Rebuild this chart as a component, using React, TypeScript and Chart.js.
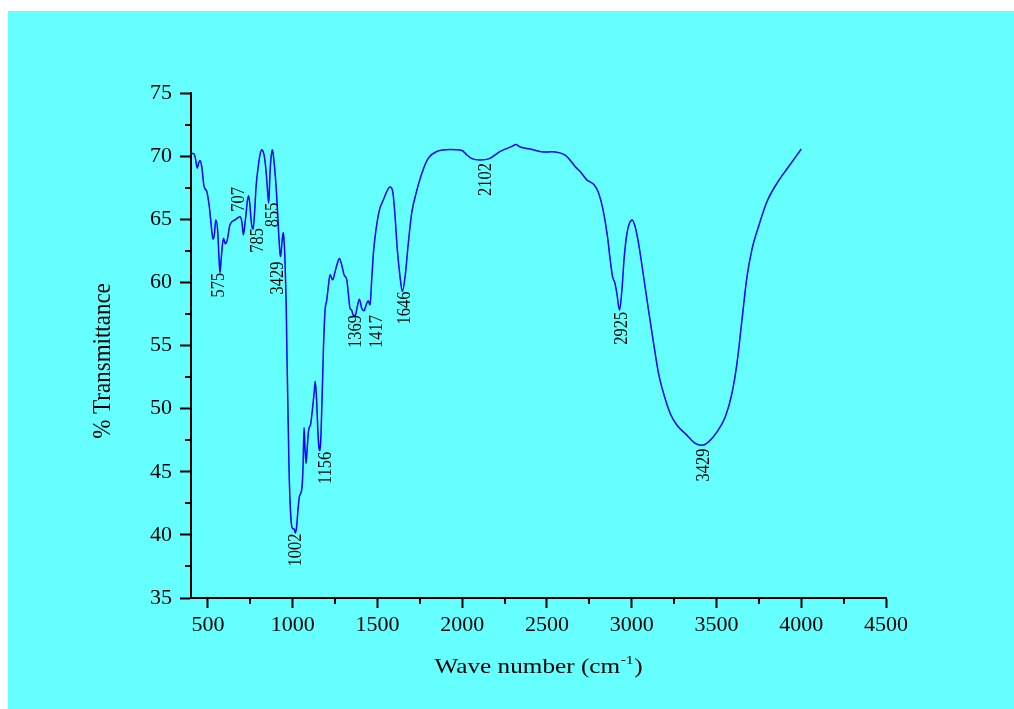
import React, { useEffect, useRef } from "react";
import { Chart, registerables } from "chart.js";

Chart.register(...registerables);

// ---- data ----
const wavenumbers = [
  400, 414, 425, 437, 446, 453, 463, 477, 493, 508, 522, 530, 538, 546, 557, 565, 571, 576, 581, 591,
  603, 614, 630, 660, 689, 700, 709, 717, 725, 733, 740, 747, 754, 760, 766, 775, 784, 797, 807, 817,
  824, 831, 840, 847, 853, 858, 862, 866, 873, 880, 888, 896, 903, 909, 913, 917, 922, 927, 931, 935,
  940, 945, 949, 953, 956, 959, 962, 965, 971, 978, 984, 992, 1000, 1008, 1015, 1023, 1031, 1039, 1047, 1055,
  1061, 1067, 1073, 1079, 1086, 1094, 1106, 1118, 1126, 1133, 1141, 1149, 1155, 1160, 1164, 1167, 1173, 1181, 1191, 1201,
  1210, 1220, 1228, 1236, 1250, 1263, 1275, 1289, 1303, 1319, 1328, 1338, 1348, 1357, 1369, 1381, 1393, 1407, 1421, 1433,
  1445, 1456, 1466, 1476, 1486, 1500, 1515, 1535, 1555, 1574, 1590, 1604, 1617, 1633, 1647, 1663, 1682, 1702, 1728, 1762,
  1800, 1850, 1929, 1998, 2027, 2057, 2106, 2160, 2224, 2293, 2318, 2342, 2401, 2479, 2529, 2607, 2627, 2666, 2696, 2735,
  2778, 2804, 2830, 2857, 2873, 2887, 2901, 2912, 2928, 2942, 2956, 2972, 2987, 3003, 3020, 3040, 3070, 3099, 3129, 3158,
  3188, 3227, 3266, 3325, 3375, 3414, 3453, 3503, 3552, 3591, 3621, 3650, 3680, 3709, 3748, 3798, 3857, 3926, 4000,
];
const transmittance = [
  70.2, 70.2, 69.9, 69.05, 69.5, 69.66, 69.2, 67.6, 67.2, 66.0, 64.16, 63.42, 63.8, 64.95, 64.16, 62.0, 60.77, 61.5, 62.3, 63.5,
  63.05, 63.37, 64.56, 64.95, 65.2, 64.8, 63.76, 64.5, 65.48, 66.5, 66.86, 66.2, 65.0, 64.4, 64.2, 65.5, 67.6, 69.2, 70.1, 70.5,
  70.4, 70.1, 69.2, 68.1, 67.0, 66.28, 67.2, 68.65, 70.0, 70.5, 69.8, 68.65, 67.4, 66.0, 65.0, 63.9, 62.8, 62.04, 62.3, 62.9,
  63.6, 63.95, 63.3, 62.3, 61.0, 59.66, 58.0, 55.17, 50.68, 45.4, 42.75, 40.9, 40.5, 40.47, 40.15, 40.63, 41.95, 43.0, 43.28, 43.8,
  45.4, 48.5, 46.7, 45.66, 46.97, 48.3, 48.78, 50.15, 51.2, 52.16, 50.68, 48.04, 46.9, 46.66, 47.2, 48.04, 50.68, 54.64, 57.8, 58.6,
  59.66, 60.6, 60.4, 60.2, 60.85, 61.5, 61.9, 61.4, 60.6, 60.2, 59.14, 57.95, 57.8, 57.4, 57.4, 58.08, 58.67, 57.95, 57.76, 58.2,
  58.55, 58.2, 60.2, 62.3, 63.6, 64.95, 65.9, 66.54, 67.2, 67.55, 67.2, 65.2, 62.6, 60.46, 59.27, 60.46, 63.1, 65.5, 67.07, 68.65,
  69.84, 70.37, 70.53, 70.45, 70.1, 69.8, 69.7, 69.8, 70.37, 70.77, 70.92, 70.72, 70.56, 70.32, 70.35, 70.08, 69.84, 69.18, 68.78, 68.12,
  67.73, 67.1, 65.8, 63.63, 61.78, 60.46, 59.93, 59.14, 57.8, 59.4, 62.04, 63.9, 64.7, 64.95, 64.42, 63.1, 60.46, 57.8, 55.17, 52.8,
  51.2, 49.62, 48.7, 47.9, 47.24, 47.1, 47.37, 48.16, 49.35, 51.2, 53.6, 57.0, 60.46, 62.6, 64.42, 66.4, 67.86, 69.18, 70.56,
];

const xTickValues = [500, 1000, 1500, 2000, 2500, 3000, 3500, 4000, 4500];
const xMinorTicks = [750, 1250, 1750, 2250, 2750, 3250, 3750, 4250];
const yTickValues = [35, 40, 45, 50, 55, 60, 65, 70, 75];
const yMinorTicks = [37.5, 42.5, 47.5, 52.5, 57.5, 62.5, 67.5, 72.5];

const peakLabels = ["575", "707", "785", "855", "3429", "1002", "1156", "1369", "1417", "1646", "2102", "2925", "3429"];
const peakLabelX = [564, 684, 795, 884, 912, 1021, 1193, 1373, 1494, 1663, 2140, 2942, 3423];
const peakLabelTop = [60.77, 67.55, 64.3, 66.32, 61.65, 40.1, 46.58, 57.42, 57.42, 59.27, 69.45, 57.68, 46.85];

const xTitleMain = "Wave number (cm";
const xTitleSup = "-1";
const xTitleEnd = ")";
const yTitle = "% Transmittance";

const FONT = "'Liberation Serif', 'Times New Roman', serif";
const W = 1014;
const H = 709;

const overlayPlugin = {
  id: "overlay",
  afterDraw(chart: any) {
    const ctx = chart.ctx as CanvasRenderingContext2D;
    const xs = chart.scales.x;
    const ys = chart.scales.y;
    const area = chart.chartArea;
    ctx.save();
    // minor ticks
    ctx.strokeStyle = "#000";
    ctx.lineWidth = 2;
    ctx.beginPath();
    xMinorTicks.forEach((v) => {
      const px = Math.round(xs.getPixelForValue(v));
      ctx.moveTo(px, area.bottom);
      ctx.lineTo(px, area.bottom + 6);
    });
    yMinorTicks.forEach((v) => {
      const py = Math.round(ys.getPixelForValue(v));
      ctx.moveTo(area.left, py);
      ctx.lineTo(area.left - 6, py);
    });
    ctx.stroke();

    // peak annotations (rotated)
    ctx.fillStyle = "#000";
    ctx.font = `16.5px ${FONT}`;
    ctx.textAlign = "right";
    ctx.textBaseline = "middle";
    peakLabels.forEach((t, i) => {
      const px = xs.getPixelForValue(peakLabelX[i]);
      const py = ys.getPixelForValue(peakLabelTop[i]);
      ctx.save();
      ctx.translate(px, py);
      ctx.scale(1.2, 1);
      ctx.rotate(-Math.PI / 2);
      ctx.fillText(t, 0, 0);
      ctx.restore();
    });

    // y title
    ctx.save();
    ctx.font = `23px ${FONT}`;
    ctx.textAlign = "center";
    ctx.textBaseline = "middle";
    ctx.translate(103, 361);
    ctx.scale(1.12, 1);
    ctx.rotate(-Math.PI / 2);
    ctx.fillText(yTitle, 0, 0);
    ctx.restore();

    // x title with superscript
    ctx.save();
    ctx.textAlign = "left";
    ctx.textBaseline = "alphabetic";
    const sx = 1.2;
    ctx.font = `21px ${FONT}`;
    const w1 = ctx.measureText(xTitleMain).width;
    const w3 = ctx.measureText(xTitleEnd).width;
    ctx.font = `13px ${FONT}`;
    const w2 = ctx.measureText(xTitleSup).width;
    const total = (w1 + w2 + w3) * sx;
    ctx.translate(538 - total / 2, 672.5);
    ctx.scale(sx, 1);
    ctx.font = `21px ${FONT}`;
    ctx.fillText(xTitleMain, 0, 0);
    ctx.font = `13px ${FONT}`;
    ctx.fillText(xTitleSup, w1 + 0.5, -9);
    ctx.font = `21px ${FONT}`;
    ctx.fillText(xTitleEnd, w1 + w2 + 1, 0);
    ctx.restore();

    ctx.restore();
  },
};

export default function App() {
  const ref = useRef<HTMLCanvasElement | null>(null);

  useEffect(() => {
    const canvas = ref.current;
    if (!canvas) return;
    const points = wavenumbers.map((x, i) => ({ x, y: transmittance[i] }));
    const chart = new Chart(canvas, {
      type: "line",
      data: {
        datasets: [
          {
            data: points,
            borderColor: "#0000ff",
            borderWidth: 1.5,
            pointRadius: 0,
            fill: false,
            cubicInterpolationMode: "monotone",
          },
        ],
      },
      options: {
        responsive: false,
        animation: false,
        events: [],
        layout: { padding: { left: 100, top: 93, right: W - 886, bottom: 40 } },
        plugins: { legend: { display: false }, tooltip: { enabled: false }, title: { display: false } },
        scales: {
          x: {
            type: "linear",
            min: 400,
            max: 4500,
            afterBuildTicks: (s: any) => {
              s.ticks = xTickValues.map((v) => ({ value: v }));
            },
            afterFit: (s: any) => {
              s.height = H - 40 - 598;
            },
            grid: { drawOnChartArea: false, drawTicks: true, tickLength: 10, tickWidth: 2, tickColor: "#000" },
            border: { display: true, color: "#000", width: 2 },
            ticks: {
              color: "#000",
              font: { family: FONT, size: 22 },
              padding: 4,
              maxRotation: 0,
              autoSkip: false,
              callback: (v: any) => String(v),
            },
          },
          y: {
            type: "linear",
            min: 35,
            max: 75,
            afterBuildTicks: (s: any) => {
              s.ticks = yTickValues.map((v) => ({ value: v }));
            },
            afterFit: (s: any) => {
              s.width = 91;
            },
            grid: { drawOnChartArea: false, drawTicks: true, tickLength: 11, tickWidth: 2, tickColor: "#000" },
            border: { display: true, color: "#000", width: 2 },
            ticks: {
              color: "#000",
              font: { family: FONT, size: 22 },
              padding: 8,
              autoSkip: false,
              callback: (v: any) => String(v),
            },
          },
        },
      },
      plugins: [overlayPlugin],
    } as any);
    return () => chart.destroy();
  }, []);

  return (
    <div style={{ position: "fixed", left: 0, top: 0, width: W, height: H, background: "#ffffff", overflow: "hidden" }}>
      <div style={{ position: "absolute", left: 8, top: 11, right: 0, bottom: 0, background: "#66ffff" }} />
      <canvas
        ref={ref}
        width={W}
        height={H}
        style={{ position: "absolute", left: 0, top: 0, width: W, height: H }}
      />
    </div>
  );
}
